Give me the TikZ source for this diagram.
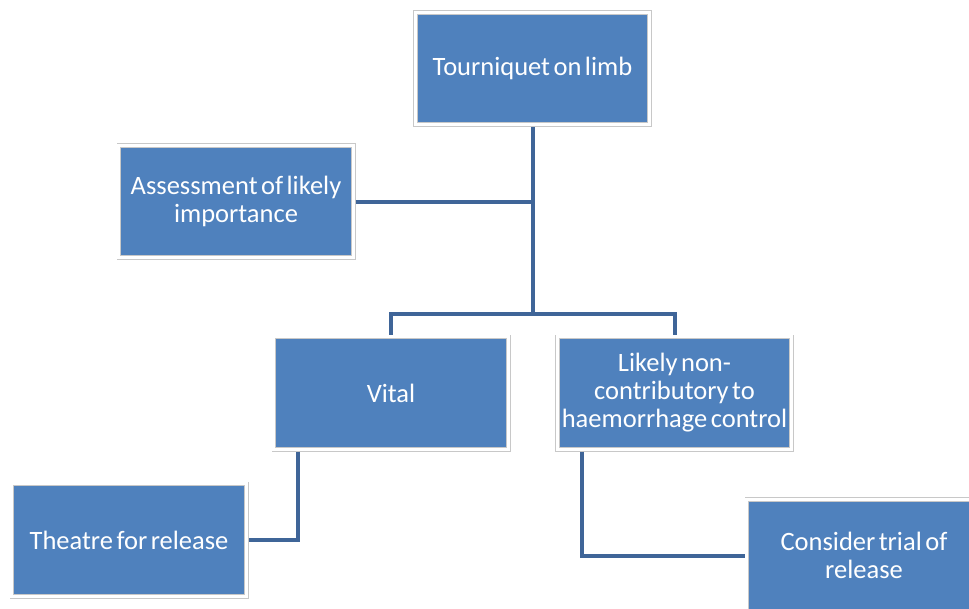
\documentclass[tikz,border=0pt]{standalone}
\usepackage{fontspec}
\setmainfont{Carlito}
\definecolor{boxblue}{HTML}{4F81BD}
\definecolor{boxgray}{HTML}{C8C8C8}
\definecolor{connblue}{HTML}{3F6598}
\begin{document}
\begin{tikzpicture}[x=1pt,y=-1pt,
  box/.style={rectangle, fill=boxblue, draw=boxgray, double=white, double distance=3pt, line width=0.8pt,
    minimum width=234.4pt, minimum height=112.4pt, outer sep=2.3pt, inner sep=0pt,
    text=white, align=center, text width=232pt, font=\fontsize{26.5}{28}\selectfont,
    execute at begin node={\spaceskip=3.5pt\relax}},
  conn/.style={draw=connblue, line width=4pt}]
\useasboundingbox (0,0) rectangle (969,608);
\clip (0,0) rectangle (969,608);
\node[box] (top) at (532.5,68.5) {Tourniquet on limb};
\node[box] (assess) at (236,201.5) {Assessment of likely\\importance};
\node[box] (vital) at (391,393) {Vital};
\node[box] (likely) at (674.5,393) {Likely non-\\contributory to\\haemorrhage control};
\node[box] (theatre) at (129,540) {Theatre for release};
\node[box] (consider) at (864,555.5) {Consider trial of\\release};
\coordinate (bar) at (532.5,314);
\draw[conn] (top.south) -- (bar);
\draw[conn] (assess.east) -- (assess.east -| top.south);
\draw[conn] (vital.north) |- (bar) -| (likely.north);
\draw[conn] ([xshift=26pt]vital.south west) |- (theatre.east);
\draw[conn] ([xshift=27pt]likely.south west) |- (consider.west);
\end{tikzpicture}
\end{document}
